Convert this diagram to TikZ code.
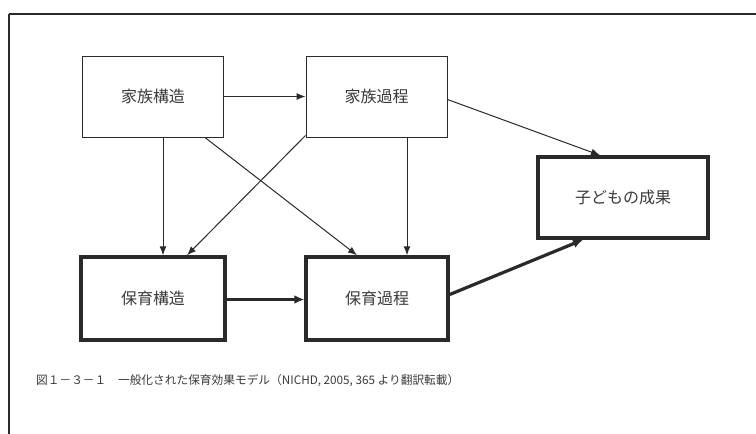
\documentclass[tikz,border=0pt]{standalone}
\usepackage{fontspec}
\newfontfamily\jp{Noto Sans CJK JP}
\usetikzlibrary{arrows.meta}
\definecolor{ink}{HTML}{2A2A2A}
\definecolor{txt}{HTML}{3A3A3A}
\tikzset{
  thinbox/.style={draw=ink, line width=1pt, fill=white, minimum width=141pt, minimum height=81pt, inner sep=0pt, font=\jp\fontsize{16}{19}\selectfont, text=txt},
  thickbox/.style={thinbox, line width=3.5pt},
  thinarrow/.style={draw=ink, line width=1pt, -{Latex[length=9pt,width=7pt]}},
  thickarrow/.style={draw=ink, line width=3.2pt, -{Latex[length=10pt,width=9pt]}},
}
\begin{document}
\begin{tikzpicture}[x=1pt,y=-1pt]
\useasboundingbox (0,0) rectangle (756,434);
\fill[white] (0,0) rectangle (756,434);
\coordinate (fbl) at (9,434);
\coordinate (ftl) at (9,14);
\coordinate (ftr) at (756,14);
\draw[ink, line width=2.2pt] (fbl) -- (ftl);
\draw[ink, line width=2.8pt] (ftl) -- (ftr);

\node[thinbox] (kz) at (153,96.5) {家族構造};
\node[thinbox] (kk) at (376.5,96.5) {家族過程};
\node[thickbox, minimum width=144pt, minimum height=83pt] (hz) at (153,298.5) {保育構造};
\node[thickbox, minimum width=142pt, minimum height=83pt] (hk) at (377,298.5) {保育過程};
\node[thickbox, minimum width=170pt, minimum height=81pt] (ko) at (623,197.5) {子どもの成果};

\draw[thinarrow] (kz.east) -- (kk.west);
\draw[thinarrow] ([xshift=10pt]kz.south) -- ([xshift=10pt]hz.north);
\draw[thinarrow] ([xshift=52pt]kz.south) -- ([xshift=-20pt]hk.north);
\draw[thinarrow] ([yshift=2pt]kk.south west) -- ([xshift=34pt]hz.north);
\draw[thinarrow] ([xshift=30.5pt]kk.south) -- ([xshift=30pt]hk.north);
\draw[thinarrow] ([yshift=-3pt]kk.east) -- ([xshift=-23pt]ko.north);
\draw[thickarrow] ([yshift=-1pt]hz.east) -- ([yshift=-1pt]hk.west);
\draw[thickarrow] ([yshift=4pt]hk.east) -- ([xshift=-40pt]ko.south);

\node[anchor=west, inner sep=0pt, text=txt, font=\jp\fontsize{11.7}{13}\selectfont] (cap) at (36,381)
  {図１－３－１　一般化された保育効果モデル（NICHD, 2005, 365 より翻訳転載）};
\end{tikzpicture}
\end{document}
